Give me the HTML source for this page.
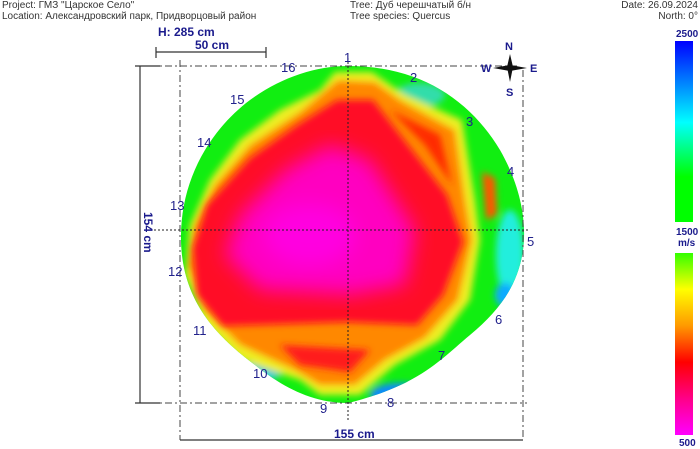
<!DOCTYPE html>
<html><head><meta charset="utf-8"><style>
html,body{margin:0;padding:0;background:#fff;}
body{width:700px;height:449px;overflow:hidden;position:relative;font-family:"Liberation Sans",Arial,sans-serif;}
.t{position:absolute;font-size:10px;color:#333;white-space:nowrap;}
</style></head><body>
<svg width="700" height="449" style="position:absolute;left:0;top:0" font-family="Liberation Sans, sans-serif">
<defs>
<clipPath id="c"><path d="M348,66 C420,66 470,100 500,150 C520,185 527,220 523,250 C518,285 500,310 470,335 C440,360 420,385 348,403 C310,403 280,385 255,365 C215,335 182,300 181,240 C180,180 210,130 250,100 C280,78 315,66 348,66 Z"/></clipPath>
<filter id="b"><feGaussianBlur stdDeviation="3.5"/></filter>
<filter id="b2"><feGaussianBlur stdDeviation="10"/></filter>
<linearGradient id="g1" x1="0" y1="0" x2="0" y2="1"><stop offset="0" stop-color="#0000ff"/><stop offset="0.45" stop-color="#00ffff"/><stop offset="0.75" stop-color="#00ff00"/><stop offset="1" stop-color="#00ff00"/></linearGradient>
<linearGradient id="g2" x1="0" y1="0" x2="0" y2="1"><stop offset="0" stop-color="#33ff00"/><stop offset="0.2" stop-color="#ffff00"/><stop offset="0.4" stop-color="#ff9900"/><stop offset="0.6" stop-color="#ff0000"/><stop offset="0.8" stop-color="#ff0088"/><stop offset="1" stop-color="#ff00ff"/></linearGradient>
</defs>
<g clip-path="url(#c)">
<rect x="170" y="60" width="360" height="350" fill="#11ee11"/>
<g filter="url(#b)">
<ellipse cx="420" cy="95" rx="25" ry="12" fill="#33ddaa"/>
<ellipse cx="510" cy="255" rx="14" ry="45" fill="#22eedd"/>
<ellipse cx="505" cy="295" rx="10" ry="12" fill="#11aaff"/>
<ellipse cx="400" cy="395" rx="30" ry="12" fill="#1188ff"/>
<ellipse cx="265" cy="370" rx="18" ry="10" fill="#22ccdd"/>
<path d="M335,72 L372,72 L405,95 L462,120 L475,200 L480,240 L470,300 L440,340 L395,365 L360,395 L320,395 L300,380 L240,360 L205,325 L185,275 L190,225 L210,180 L240,140 L280,110 L320,90 Z" fill="#eeee22"/>
<path d="M338,80 L375,82 L400,100 L455,130 L465,200 L472,240 L458,300 L425,338 L385,360 L355,385 L320,385 L295,370 L240,345 L205,310 L188,265 L195,225 L215,185 L250,145 L300,112 Z" fill="#ff8800"/>
<path d="M482,172 L495,178 L497,215 L486,220 Z" fill="#ff5500"/>
</g>
<g filter="url(#b)">
<path d="M337,100 L373,100 L447,195 L463,242 L443,295 L417,325 L347,322 L223,326 L197,295 L193,248 L207,205 L250,158 L297,125 Z" fill="#ff0a28"/>
<path d="M280,345 L370,350 L350,372 L300,365 Z" fill="#ff1a1a"/>
<path d="M390,110 L440,135 L452,185 L425,145 Z" fill="#ff2a00"/>
</g>
<g filter="url(#b2)">
<path d="M330,145 L370,160 L415,230 L405,285 L350,295 L260,290 L225,255 L240,215 L285,170 Z" fill="#ff00c0"/>
<ellipse cx="310" cy="235" rx="45" ry="30" fill="#ff00e0"/>
</g>
</g>
<g stroke="#444" stroke-width="1" stroke-dasharray="7,3,2,3" fill="none">
<line x1="150" y1="66" x2="520" y2="66"/>
<line x1="150" y1="403" x2="527" y2="403"/>
<line x1="180" y1="60" x2="180" y2="440"/>
<line x1="523" y1="70" x2="523" y2="440"/>
</g>
<g stroke="#222" stroke-width="1" stroke-dasharray="2,2" fill="none">
<line x1="150" y1="230" x2="530" y2="230"/>
<line x1="348" y1="58" x2="348" y2="420"/>
</g>
<g stroke="#333" stroke-width="1.2">
<line x1="140" y1="66" x2="140" y2="403"/><line x1="135" y1="66" x2="160" y2="66"/><line x1="135" y1="403" x2="160" y2="403"/>
<line x1="180" y1="440" x2="523" y2="440"/>
<line x1="156" y1="52" x2="266" y2="52"/><line x1="156" y1="47" x2="156" y2="58"/><line x1="266" y1="47" x2="266" y2="58"/>
</g>
<g fill="#1a1a8c" font-weight="bold" font-size="12">
<text x="158" y="36">H: 285 cm</text>
<text x="195" y="49">50 cm</text>
<text x="334" y="438">155 cm</text>
<text transform="translate(144,212) rotate(90)">154 cm</text>
<text x="676" y="37" font-size="10">2500</text>
<text x="676" y="235" font-size="10">1500</text>
<text x="678" y="246" font-size="10">m/s</text>
<text x="679" y="446" font-size="10">500</text>
<text x="505" y="50" font-size="11">N</text>
<text x="481" y="72" font-size="11">W</text>
<text x="530" y="72" font-size="11">E</text>
<text x="506" y="96" font-size="11">S</text>
</g>
<g fill="#111">
<polygon points="510,54 513,67 510,82 507,67"/>
<polygon points="493,68 510,65 527,68 510,71"/>
</g>
<g fill="#22228c" font-size="13">
<text x="344" y="62">1</text><text x="410" y="82">2</text><text x="466" y="126">3</text><text x="507" y="176">4</text>
<text x="527" y="246">5</text><text x="495" y="324">6</text><text x="438" y="360">7</text><text x="387" y="407">8</text>
<text x="320" y="413">9</text><text x="253" y="378">10</text><text x="193" y="335">11</text><text x="168" y="276">12</text>
<text x="170" y="210">13</text><text x="197" y="147">14</text><text x="230" y="104">15</text><text x="281" y="72">16</text>
</g>
<rect x="675" y="41" width="18" height="181" fill="url(#g1)"/>
<rect x="675" y="253" width="18" height="182" fill="url(#g2)"/>
</svg>
<div class="t" style="left:2px;top:0px">Project: ГМЗ "Царское Село"</div>
<div class="t" style="left:2px;top:11px">Location: Александровский парк, Придворцовый район</div>
<div class="t" style="left:350px;top:0px">Tree: Дуб черешчатый б/н</div>
<div class="t" style="left:350px;top:11px">Tree species: Quercus</div>
<div class="t" style="right:2px;top:0px">Date: 26.09.2024</div>
<div class="t" style="right:2px;top:11px">North: 0°</div>
</body></html>
